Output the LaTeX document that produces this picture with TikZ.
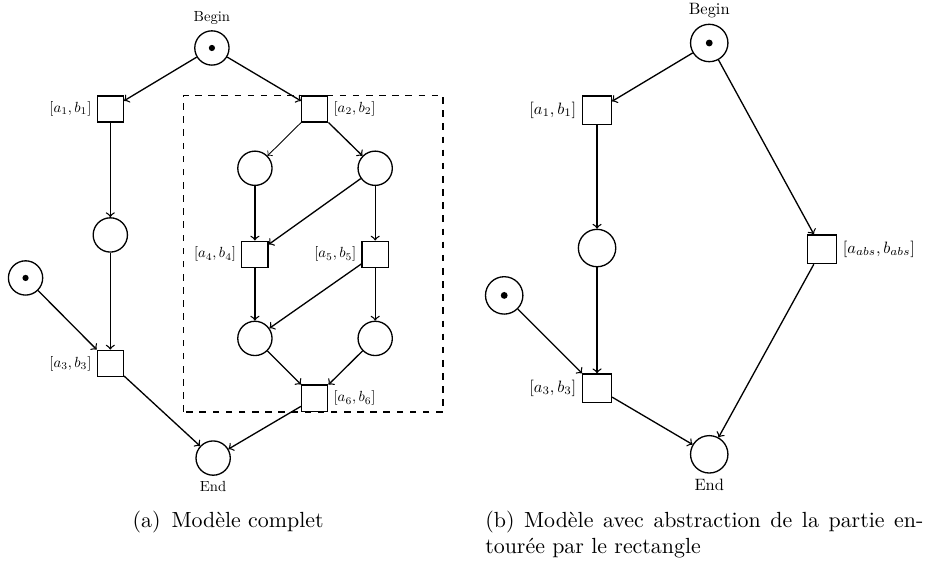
\documentclass[tikz,border=0pt]{standalone}
\usetikzlibrary{positioning}

\begin{document}
\begin{tikzpicture}[
    place/.style={circle, draw, semithick, minimum size=0.55cm, inner sep=0pt},
    transition/.style={rectangle, draw, semithick, minimum size=0.42cm, inner sep=0pt},
    token/.style={path picture={\fill (path picture bounding box.center) circle (0.05);}},
    arc/.style={->, semithick},
    every label/.style={font=\normalsize, scale=0.67}
  ]
  \useasboundingbox (0,0) rectangle (14.89,9.07);

  % Full model
  \node[place, token, label=above:Begin] (begin) at (3.40, 8.30) {};
  \node[transition, label=left:{$[a_1, b_1]$}] (t1) at (1.77, 7.32) {};
  \node[place] (p1) at (1.77, 5.30) {};
  \node[place, token] (extra) at (0.41, 4.61) {};
  \node[transition, label=left:{$[a_3, b_3]$}] (t3) at (1.77, 3.24) {};
  \node[place, label=below:End] (end) at (3.42, 1.72) {};

  % Part that gets abstracted
  \node[transition, label=right:{$[a_2, b_2]$}] (t2) at (5.05, 7.32) {};
  \node[place] (p2) at (4.09, 6.37) {};
  \node[place] (p3) at (6.02, 6.37) {};
  \node[transition, label=left:{$[a_4, b_4]$}] (t4) at (4.09, 4.99) {};
  \node[transition, label=left:{$[a_5, b_5]$}] (t5) at (6.02, 4.99) {};
  \node[place] (p4) at (4.09, 3.64) {};
  \node[place] (p5) at (6.02, 3.64) {};
  \node[transition, label=right:{$[a_6, b_6]$}] (t6) at (5.05, 2.68) {};
  \draw[semithick, dashed] (2.94, 2.46) rectangle (7.11, 7.54);

  \draw[arc] (begin) -- (t1);
  \draw[arc] (begin) -- (t2);
  \draw[arc] (t1) -- (p1);
  \draw[arc] (p1) -- (t3);
  \draw[arc] (extra) -- (t3);
  \draw[arc] (t3) -- (end);
  \draw[->, thin] (t2) -- (p2);
  \draw[arc] (t2) -- (p3);
  \draw[arc] (p2) -- (t4);
  \draw[arc] (p3) -- (t4);
  \draw[arc] (p3) -- (t5);
  \draw[arc] (t4) -- (p4);
  \draw[arc] (t5) -- (p4);
  \draw[arc] (t5) -- (p5);
  \draw[arc] (p4) -- (t6);
  \draw[arc] (p5) -- (t6);
  \draw[arc] (t6) -- (end);

  \node[anchor=base] (capa) at (3.66, 0.61) {(a)\enspace Modèle complet};

  % Abstracted model
  \begin{scope}[
      place/.append style={minimum size=0.60cm},
      transition/.append style={minimum size=0.46cm},
      token/.style={path picture={\fill (path picture bounding box.center) circle (0.055);}},
      every label/.style={font=\normalsize, scale=0.75}
    ]
    \node[place, token, label=above:Begin] (begin2) at (11.38, 8.38) {};
    \node[transition, label=left:{$[a_1, b_1]$}] (t1b) at (9.58, 7.30) {};
    \node[place] (p1b) at (9.58, 5.09) {};
    \node[transition, label=right:{$[a_{abs}, b_{abs}]$}] (tabs) at (13.19, 5.07) {};
    \node[place, token] (extra2) at (8.09, 4.33) {};
    \node[transition, label=left:{$[a_3, b_3]$}] (t3b) at (9.58, 2.84) {};
    \node[place, label=below:End] (end2) at (11.38, 1.78) {};

    \draw[arc] (begin2) -- (t1b);
    \draw[arc] (begin2) -- (tabs);
    \draw[arc] (t1b) -- (p1b);
    \draw[arc] (p1b) -- (t3b);
    \draw[arc] (extra2) -- (t3b);
    \draw[arc] (t3b) -- (end2);
    \draw[arc] (tabs) -- (end2);
  \end{scope}

  \node[anchor=base west, text width=7.03cm, align=justify, inner sep=0pt] (capb) at (7.78, 0.61)
    {(b) Modèle avec abstraction de la partie en-\linebreak tourée par le rectangle};
\end{tikzpicture}
\end{document}
